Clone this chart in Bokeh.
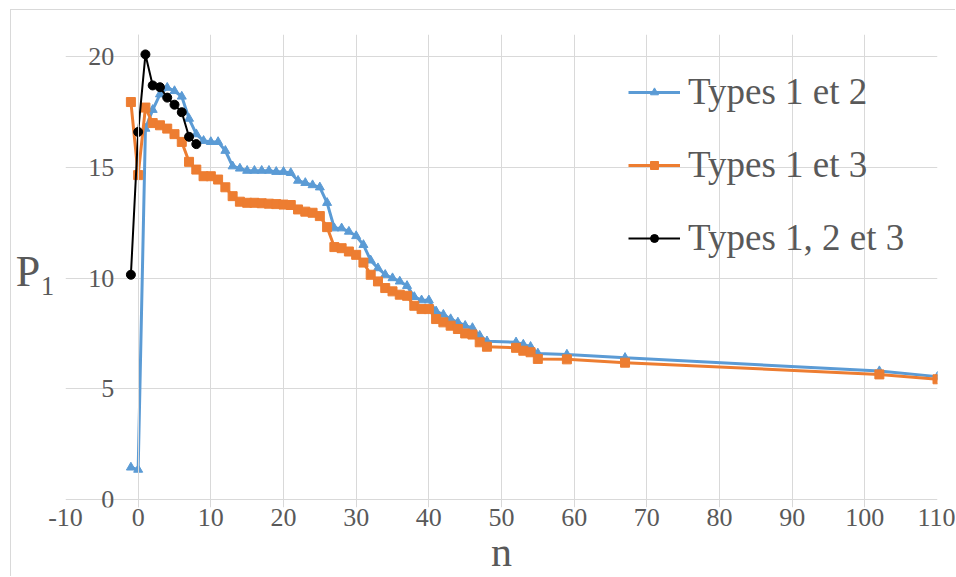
from bokeh.plotting import figure
from bokeh.models import Range1d, FixedTicker, Legend, LegendItem, LinearAxis, Label
from bokeh.embed import file_html
from bokeh.resources import INLINE

# ---- data ----
n_12 = [-1, 0, 1, 2, 3, 4, 5, 6, 7, 8, 9, 10, 11, 12, 13, 14, 15, 16, 17, 18, 19, 20,
        21, 22, 23, 24, 25, 26, 27, 28, 29, 30, 31, 32, 33, 34, 35, 36, 37, 38, 39, 40,
        41, 42, 43, 44, 45, 46, 47, 48, 52, 53, 54, 55, 59, 67, 102, 110]
p_12 = [1.45, 1.35, 16.75, 17.6, 18.3, 18.6, 18.45, 18.2, 17.2, 16.5, 16.2, 16.15, 16.15,
        15.75, 15.05, 14.95, 14.85, 14.85, 14.85, 14.85, 14.8, 14.8, 14.75, 14.4, 14.3,
        14.2, 14.1, 13.4, 12.25, 12.25, 12.1, 11.9, 11.5, 10.8, 10.45, 10.15, 10.0, 9.85,
        9.65, 9.15, 9.0, 9.0, 8.5, 8.35, 8.15, 8.0, 7.85, 7.75, 7.4, 7.15, 7.1, 7.0, 6.9,
        6.6, 6.55, 6.4, 5.8, 5.55]

n_13 = [-1, 0, 1, 2, 3, 4, 5, 6, 7, 8, 9, 10, 11, 12, 13, 14, 15, 16, 17, 18, 19, 20,
        21, 22, 23, 24, 25, 26, 27, 28, 29, 30, 31, 32, 33, 34, 35, 36, 37, 38, 39, 40,
        41, 42, 43, 44, 45, 46, 47, 48, 52, 53, 54, 55, 59, 67, 102, 110]
p_13 = [17.95, 14.65, 17.7, 17.0, 16.9, 16.75, 16.5, 16.15, 15.25, 14.9, 14.6, 14.6, 14.45,
        14.1, 13.7, 13.45, 13.4, 13.4, 13.38, 13.36, 13.34, 13.32, 13.3, 13.1, 13.0,
        12.95, 12.8, 12.3, 11.4, 11.35, 11.2, 11.05, 10.7, 10.15, 9.85, 9.55, 9.4, 9.25,
        9.2, 8.75, 8.6, 8.6, 8.15, 8.0, 7.85, 7.7, 7.5, 7.45, 7.1, 6.9, 6.85, 6.72, 6.65,
        6.35, 6.33, 6.18, 5.65, 5.43]

n_123 = [-1, 0, 1, 2, 3, 4, 5, 6, 7, 8]
p_123 = [10.15, 16.6, 20.1, 18.7, 18.62, 18.15, 17.83, 17.49, 16.38, 16.05]

x_ticks = [-10, 0, 10, 20, 30, 40, 50, 60, 70, 80, 90, 100, 110]
x_tick_labels = ["-10", "0", "10", "20", "30", "40", "50", "60", "70", "80", "90", "100", "110"]
y_ticks = [0, 5, 10, 15, 20]
y_label_ticks = [5, 10, 15, 20]
series_names = ["Types 1 et 2", "Types 1 et 3", "Types 1, 2 et 3"]

FONT = "Liberation Serif"
GRID = "#d9d9d9"
TXT = "#595959"
BLUE = "#5B9BD5"
ORANGE = "#ED7D31"
BLACK = "#000000"

# the frame reaches a few pixels below P1 = 0 so that the vertical grid lines
# poke out like tick marks and the "0" label is not cut
p = figure(width=945, height=567, x_range=Range1d(-10, 110), y_range=Range1d(-0.36, 21),
           output_backend="svg", toolbar_location=None,
           min_border_left=54, min_border_right=19, min_border_top=24, min_border_bottom=66)
p.margin = (9, 0, 0, 10)
p.styles = {"border-left": "1px solid #d9d9d9", "border-top": "1px solid #d9d9d9"}
p.outline_line_color = None
p.background_fill_color = "white"
p.border_fill_color = "white"

# x axis (line drawn by the P1 = 0 grid line)
p.xaxis.ticker = FixedTicker(ticks=x_ticks)
p.xaxis.major_label_overrides = dict(zip(x_ticks, x_tick_labels))
p.xaxis.axis_line_color = None
p.xaxis.major_tick_line_color = None
p.xaxis.major_tick_out = 0
p.xaxis.major_tick_in = 0
p.xaxis.minor_tick_line_color = None
p.xaxis.major_label_text_font = FONT
p.xaxis.major_label_text_font_size = "26px"
p.xaxis.major_label_text_color = TXT
p.xaxis.major_label_standoff = 1
p.xaxis.axis_label = "n"
p.xaxis.axis_label_text_font = FONT
p.xaxis.axis_label_text_font_size = "42px"
p.xaxis.axis_label_text_font_style = "normal"
p.xaxis.axis_label_text_color = TXT
p.xaxis.axis_label_standoff = 0

# y axis: drawn at n = 0 (fixed location), labels to its left
ya = p.yaxis[0]
ya.fixed_location = 0
ya.ticker = FixedTicker(ticks=y_label_ticks)
ya.axis_line_color = GRID
ya.major_tick_line_color = None
ya.major_tick_out = 0
ya.major_tick_in = 0
ya.minor_tick_line_color = None
ya.major_label_standoff = 24
ya.major_label_text_font = FONT
ya.major_label_text_font_size = "26px"
ya.major_label_text_color = TXT

# the "0" label of the value axis (sits on the n axis line)
p.add_layout(Label(x=0, y=y_ticks[0], x_offset=-24, text="0",
                   text_align="right", text_baseline="middle",
                   text_font=FONT, text_font_size="26px", text_color=TXT))

# y title axis (no ticks), placed in the left margin
ytitle = LinearAxis(ticker=FixedTicker(ticks=[]), axis_label="P\u2081",
                    axis_label_orientation="horizontal", axis_label_standoff=10,
                    axis_label_text_font=FONT, axis_label_text_font_size="44px",
                    axis_label_text_font_style="normal", axis_label_text_color=TXT,
                    axis_line_color=None, major_tick_line_color=None,
                    minor_tick_line_color=None)
p.add_layout(ytitle, "left")

p.xgrid.ticker = FixedTicker(ticks=x_ticks)
p.ygrid.ticker = FixedTicker(ticks=y_ticks)
p.xgrid.grid_line_color = GRID
p.ygrid.grid_line_color = GRID

# series
l1 = p.line(n_12, p_12, line_color=BLUE, line_width=3)
s1 = p.scatter(n_12, p_12, marker="triangle", size=9, fill_color=BLUE, line_color=BLUE)
l2 = p.line(n_13, p_13, line_color=ORANGE, line_width=3)
s2 = p.scatter(n_13, p_13, marker="square", size=9, fill_color=ORANGE, line_color=ORANGE)
l3 = p.line(n_123, p_123, line_color=BLACK, line_width=2)
s3 = p.scatter(n_123, p_123, marker="circle", size=9, fill_color=BLACK, line_color=BLACK)

legend = Legend(items=[LegendItem(label=series_names[0], renderers=[l1, s1]),
                       LegendItem(label=series_names[1], renderers=[l2, s2]),
                       LegendItem(label=series_names[2], renderers=[l3, s3])],
                location=(563, 248), orientation="vertical",
                label_text_font=FONT, label_text_font_size="37px", label_text_color=TXT,
                glyph_width=52, glyph_height=20, label_standoff=8, spacing=30,
                padding=0, margin=0, border_line_color=None, background_fill_alpha=0)
p.add_layout(legend, "center")

open("out.html", "w").write(file_html(p, INLINE))
